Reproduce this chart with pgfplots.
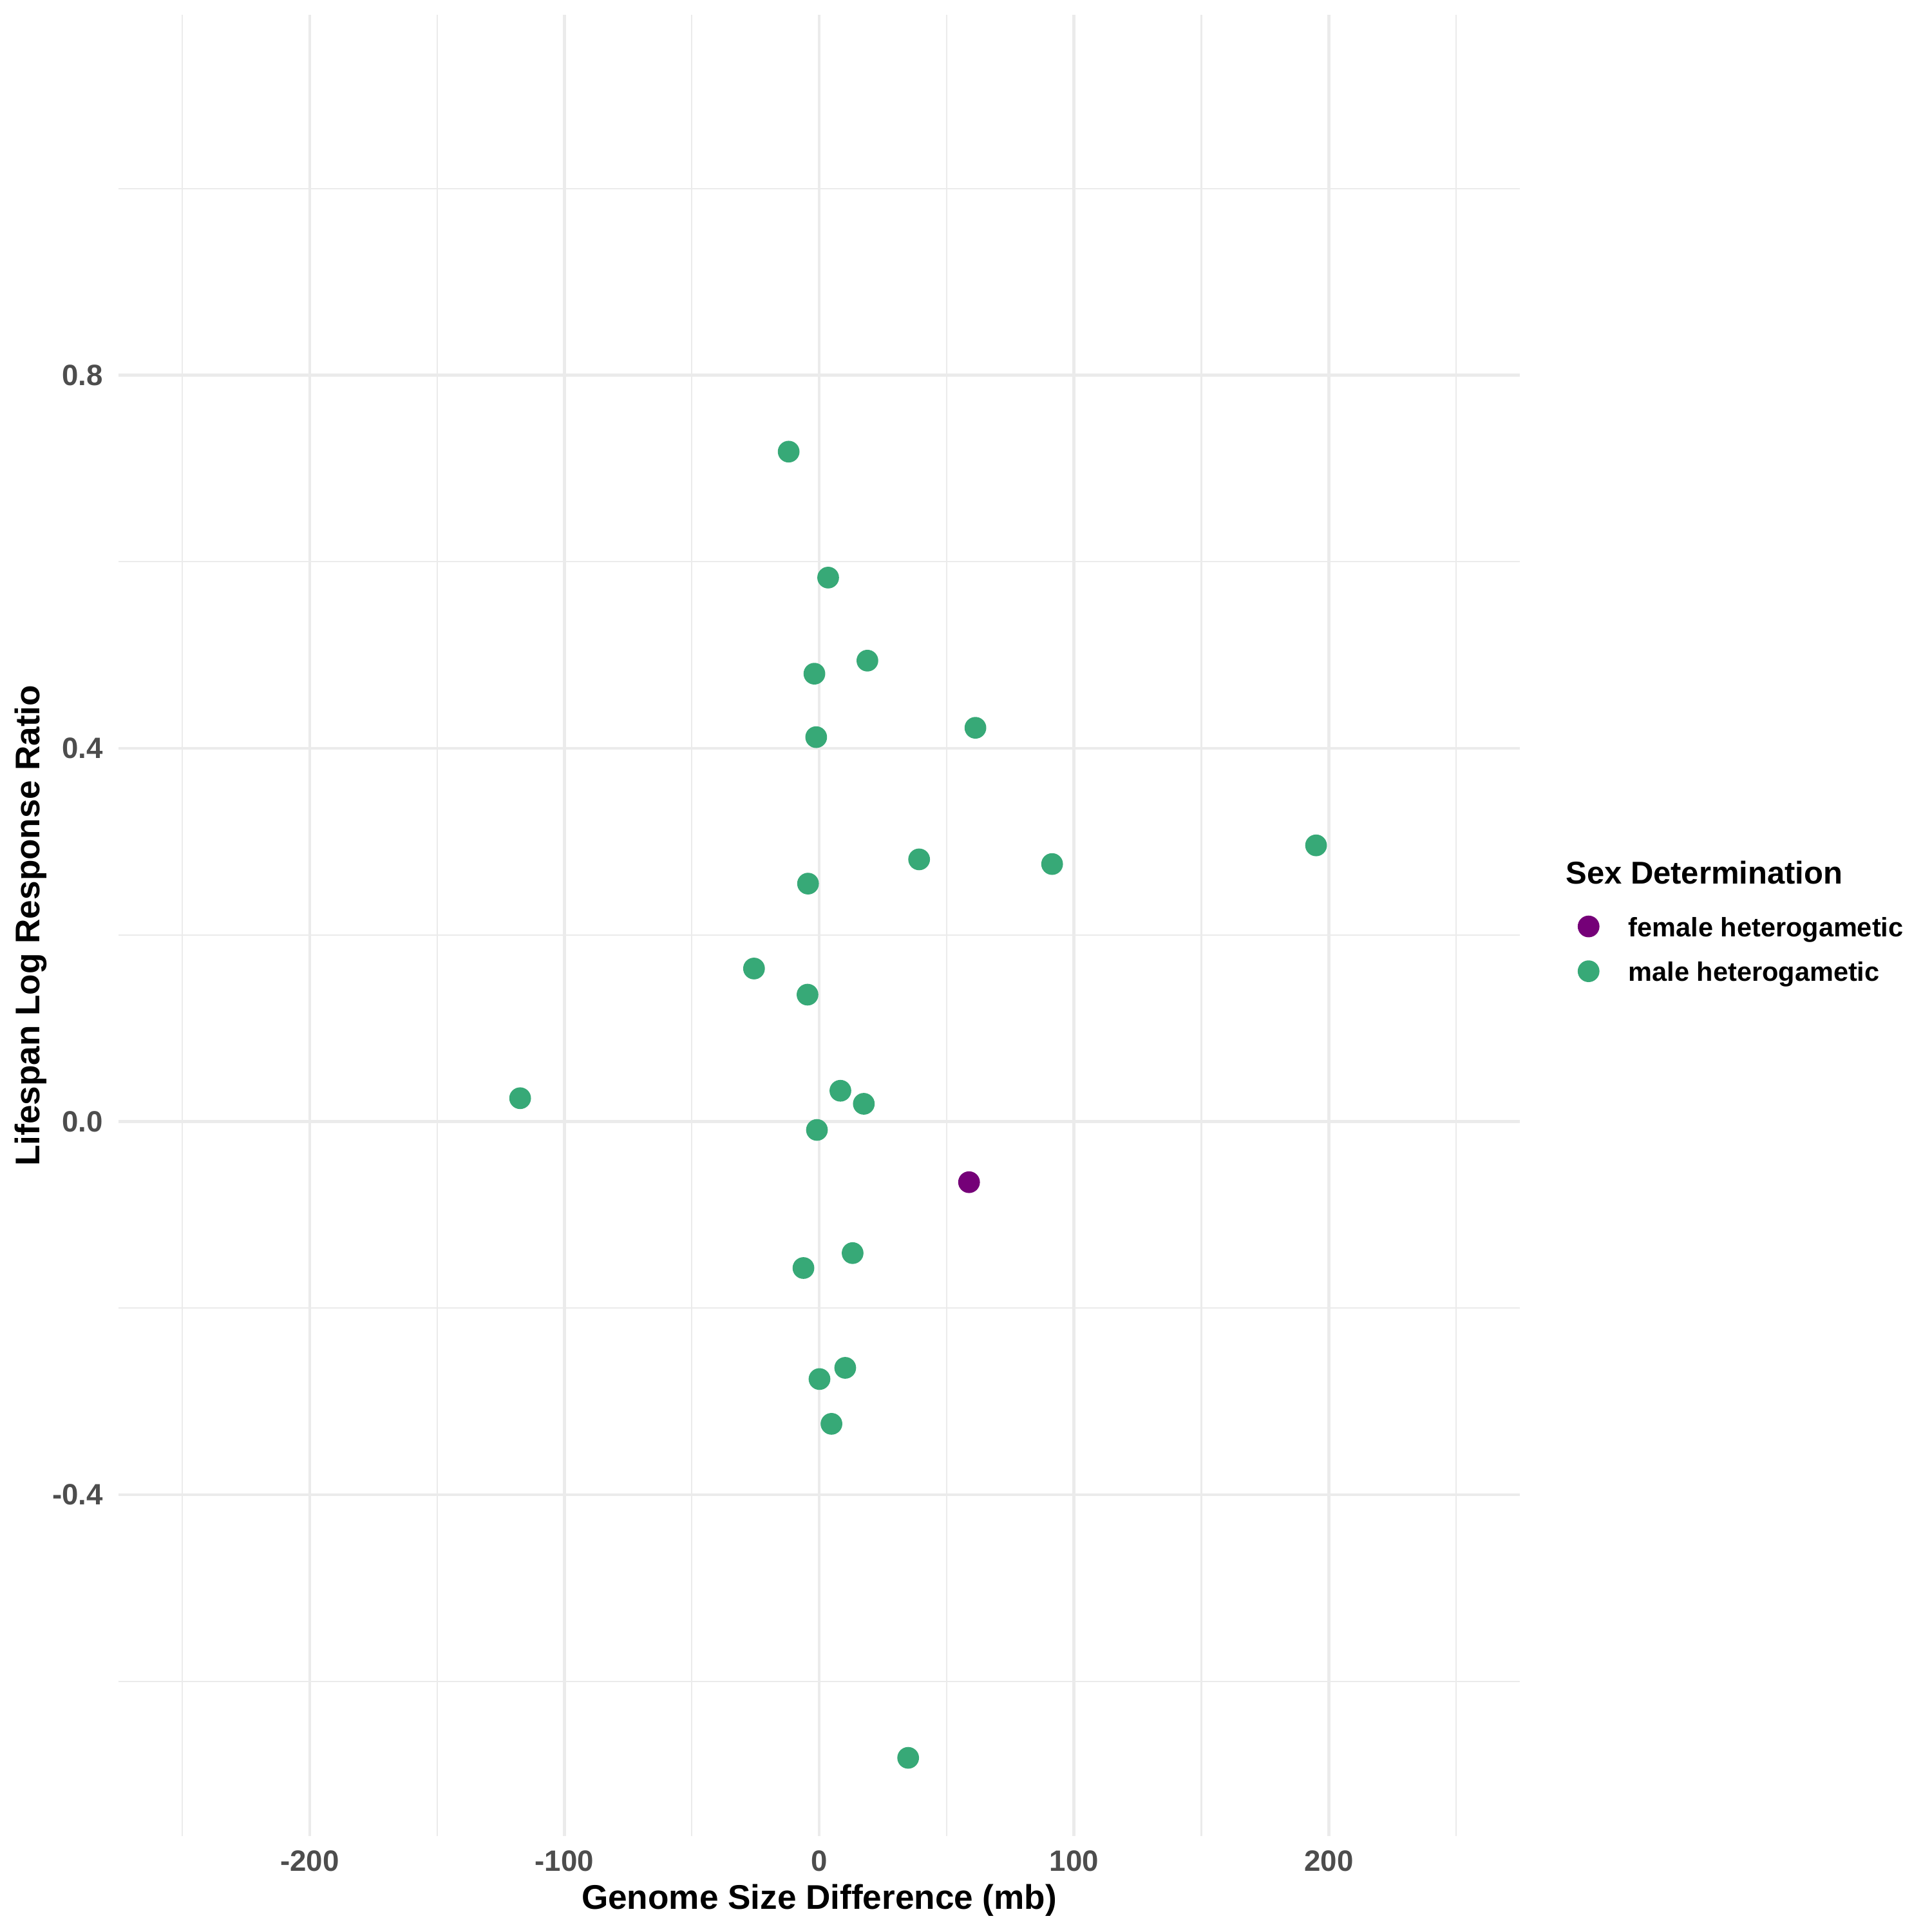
\documentclass[border=0pt]{standalone}
\usepackage{pgfplots}
\pgfplotsset{compat=1.18}
\usepackage{fontspec}
\setmainfont{Liberation Sans}
\definecolor{male}{HTML}{37A977}
\definecolor{female}{HTML}{750078}
\definecolor{gridc}{HTML}{EBEBEB}
\definecolor{ticktext}{HTML}{4D4D4D}

\pgfplotstableread{
x y
-12.0 0.718
3.5 0.583
18.9 0.494
-1.9 0.480
61.3 0.422
-1.2 0.412
195.0 0.296
39.2 0.281
91.4 0.276
-4.4 0.255
-25.6 0.164
-4.6 0.136
-117.4 0.025
8.3 0.033
17.5 0.019
-0.9 -0.009
13.1 -0.141
-6.2 -0.157
10.2 -0.264
0.1 -0.276
4.8 -0.324
34.9 -0.682
}\maletable

\pgfplotstableread{
x y
58.8 -0.065
}\femaletable

\begin{document}
\begin{tikzpicture}
\begin{axis}[
  at={(0,0)}, anchor=south west,
  scale only axis, width=522.3bp, height=678.8bp,
  xmin=-275, xmax=275, ymin=-0.766, ymax=1.186,
  axis line style={draw=none},
  major tick length=0pt, minor tick length=0pt,
  xtick={-200,-100,0,100,200},
  xticklabels={-200,-100,0,100,200},
  minor xtick={-250,-150,-50,50,150,250},
  ytick={-0.4,0,0.4,0.8},
  yticklabels={-0.4,0.0,0.4,0.8},
  minor ytick={-0.6,-0.2,0.2,0.6,1.0},
  grid=both,
  major grid style={line width=1.1bp, draw=gridc},
  minor grid style={line width=0.55bp, draw=gridc},
  xticklabel style={font=\fontsize{11}{13}\selectfont\bfseries, text=ticktext, inner sep=0pt, anchor=north, yshift=-5.2bp},
  yticklabel style={font=\fontsize{11}{13}\selectfont\bfseries, text=ticktext, inner sep=0pt, anchor=east, xshift=-5.6bp},
  xlabel={Genome Size Difference (mb)},
  ylabel={Lifespan Log Response Ratio},
  xlabel style={at={(axis description cs:0.5,0)}, anchor=base, yshift=-27.2bp, inner sep=0pt, font=\fontsize{12.8}{15}\selectfont\bfseries},
  ylabel style={at={(axis description cs:0,0.5)}, anchor=base, yshift=29.4bp, inner sep=0pt, font=\fontsize{12.8}{15}\selectfont\bfseries},
  legend image code/.code={\fill[#1] (0bp,3.8bp) circle (3.85bp);},
  legend style={at={(axis description cs:1.0409,0.5058)}, anchor=north west,
    draw=none, fill=none, inner sep=0pt, row sep=7.35bp, column sep=10.85bp,
    nodes={inner sep=0pt}, cells={anchor=base west},
    font=\fontsize{10}{12}\selectfont\bfseries},
  clip=false,
]
\addplot[only marks, mark=*, mark size=3.85bp, color=female, mark options={draw=none, fill=female}] table[x=x, y=y] {\femaletable};
\addlegendentry{female heterogametic}
\addplot[only marks, mark=*, mark size=3.85bp, color=male, mark options={draw=none, fill=male}] table[x=x, y=y] {\maletable};
\addlegendentry{male heterogametic}
\node[anchor=base west, inner sep=0pt, font=\fontsize{11.8}{14}\selectfont\bfseries] at (axis description cs:1.0324,0.5228) {Sex Determination};
\end{axis}
\pgfresetboundingbox
\path (-44.2bp,-35.6bp) rectangle (675.9bp,684.4bp);
\end{tikzpicture}
\end{document}
